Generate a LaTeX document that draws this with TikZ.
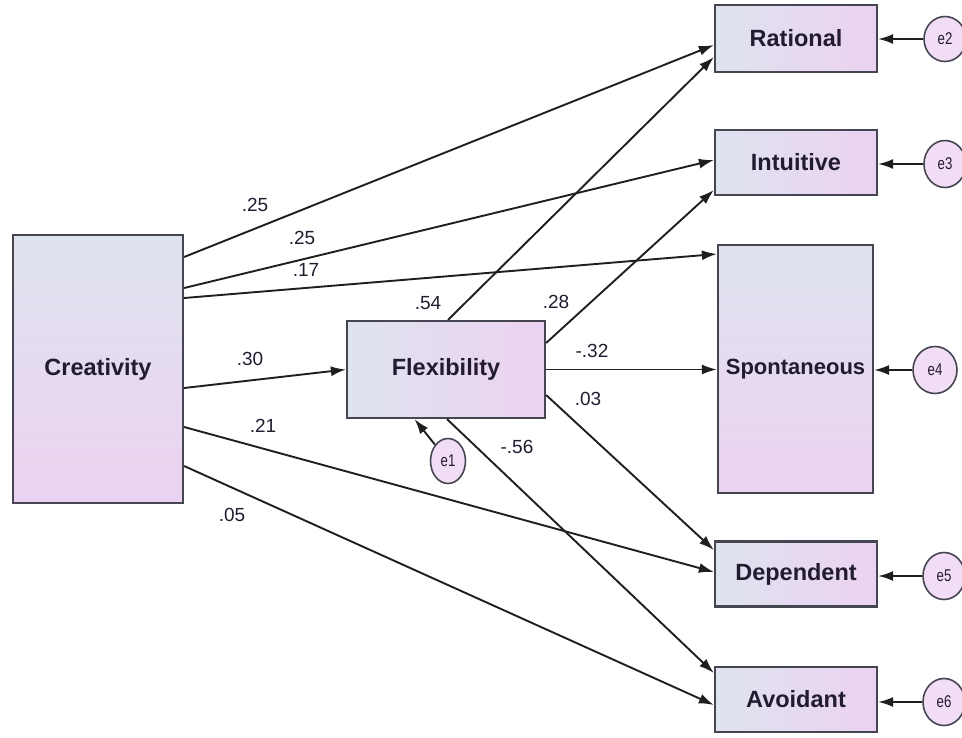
\documentclass[tikz,border=0pt]{standalone}
\usepackage{fontspec}
\setmainfont{Liberation Sans}
\newfontfamily\condfont[FakeStretch=0.78]{Liberation Sans}
\usetikzlibrary{arrows.meta,calc,shapes.geometric}
\definecolor{boxblue}{RGB}{222,227,238}
\definecolor{boxpink}{RGB}{236,210,242}
\definecolor{edgegrey}{RGB}{70,70,82}
\definecolor{inkc}{RGB}{34,28,48}
\tikzset{
  var/.style={draw=edgegrey, line width=2.2pt, rectangle, inner sep=0pt,
    font=\bfseries\fontsize{23.5}{26}\selectfont, text=inkc},
  hvar/.style={var, left color=boxblue, right color=boxpink},
  vvar/.style={var, top color=boxblue, bottom color=boxpink},
  err/.style={draw=edgegrey, line width=1.6pt, ellipse, inner sep=0pt,
    fill=boxpink!75!white, font=\condfont\fontsize{17}{18}\selectfont, text=inkc},
  pathc/.style={-{Latex[length=15pt,width=10pt]}, line width=1.9pt, black!88},
  coef/.style={font=\fontsize{19}{21}\selectfont, text=inkc, inner sep=0pt},
}
\begin{document}
\begin{tikzpicture}[x=1pt,y=-1pt]
\useasboundingbox (0,0) rectangle (962,737);
\fill[white] (0,0) rectangle (962,737);

% variables
\node[vvar, minimum width=170pt, minimum height=268pt] (cre) at (98,369) {Creativity};
\node[hvar, minimum width=198pt, minimum height=97pt] (flex) at (446,369.5) {Flexibility};
\node[hvar, minimum width=162pt, minimum height=67pt] (rat) at (796,38.5) {Rational};
\node[hvar, minimum width=162pt, minimum height=65pt] (int) at (796,162.5) {Intuitive};
\node[vvar, minimum width=155pt, minimum height=248pt, font=\bfseries\fontsize{22}{24}\selectfont] (spo) at (795.5,369) {Spontaneous};
\node[hvar, minimum width=162pt, minimum height=65pt] (dep) at (796,574) {Dependent};
\node[hvar, minimum width=162pt, minimum height=65pt] (avo) at (796,699.5) {Avoidant};

% error terms
\node[err, minimum width=35pt, minimum height=45pt] (e1) at (448,461) {e1};
\node[err, minimum width=42pt, minimum height=45pt] (e2) at (945,39) {e2};
\node[err, minimum width=42pt, minimum height=47pt] (e3) at (945,164) {e3};
\node[err, minimum width=44pt, minimum height=47pt] (e4) at (935,370) {e4};
\node[err, minimum width=42pt, minimum height=47pt] (e5) at (944,576) {e5};
\node[err, minimum width=42pt, minimum height=47pt] (e6) at (944,702) {e6};

% paths from Creativity
\draw[pathc] ([yshift=112pt]cre.east) -- ([yshift=-6.5pt]rat.west);
\draw[pathc] ([yshift=81pt]cre.east) -- ([yshift=2.5pt]int.west);
\draw[pathc] ([yshift=71pt]cre.east) -- ([yshift=115pt]spo.west);
\draw[pathc] ([yshift=-19pt]cre.east) -- (flex.west);
\draw[pathc] ([yshift=-58pt]cre.east) -- ([yshift=2pt]dep.west);
\draw[pathc] ([yshift=-97pt]cre.east) -- ([yshift=-5.5pt]avo.west);

% paths from Flexibility
\draw[pathc] ([xshift=2pt]flex.north) -- ([yshift=-18.5pt]rat.west);
\draw[pathc] ([yshift=26.5pt]flex.east) -- ([yshift=-27.5pt]int.west);
\draw[pathc] (flex.east) -- (flex.east -| spo.west);
\draw[pathc] ([yshift=-25.5pt]flex.east) -- ([yshift=24pt]dep.west);
\draw[pathc] ([xshift=1pt]flex.south) -- ([yshift=26.5pt]avo.west);

% error paths
\draw[pathc] (e1) -- ($(flex.south west)!0.343!(flex.south east)$);
\draw[pathc] (e2.west) -- (e2.west -| rat.east);
\draw[pathc] (e3.west) -- (e3.west -| int.east);
\draw[pathc] (e4.west) -- (e4.west -| spo.east);
\draw[pathc] (e5.west) -- (e5.west -| dep.east);
\draw[pathc] (e6.west) -- (e6.west -| avo.east);

% coefficients
\node[coef] (c1) at (255,205) {.25};
\node[coef] (c2) at (302,238) {.25};
\node[coef] (c3) at (306,270) {.17};
\node[coef] (c4) at (250,359) {.30};
\node[coef] (c5) at (263,426) {.21};
\node[coef] (c6) at (232,515) {.05};
\node[coef] (c7) at (428,303) {.54};
\node[coef] (c8) at (556,302) {.28};
\node[coef] (c9) at (592,351) {-.32};
\node[coef] (c10) at (588,399) {.03};
\node[coef] (c11) at (517,447) {-.56};
\end{tikzpicture}
\end{document}
